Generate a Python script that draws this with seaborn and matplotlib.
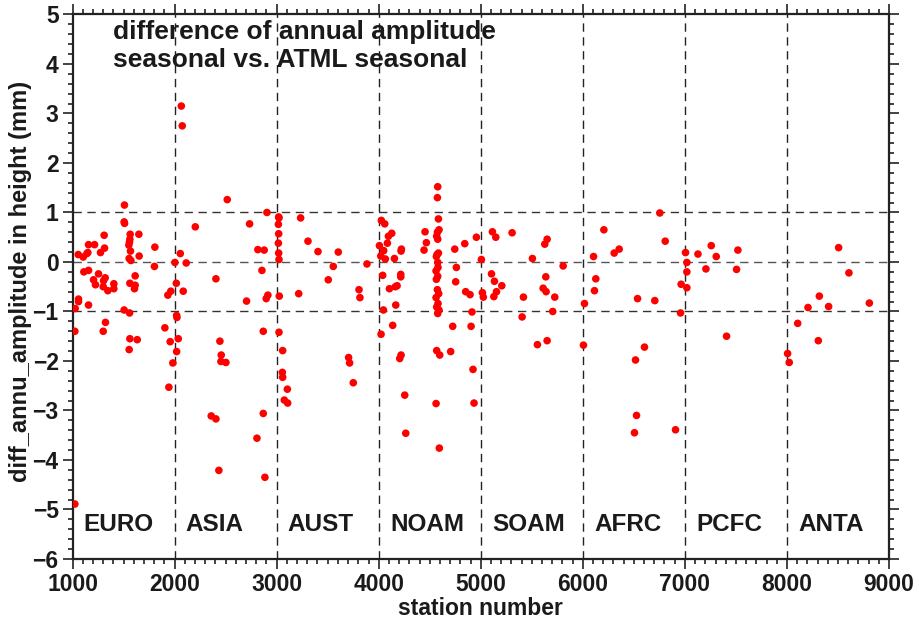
import numpy as np
import pandas as pd
import matplotlib
matplotlib.use("Agg")
import matplotlib.pyplot as plt
import seaborn as sns
from matplotlib.ticker import MultipleLocator

# ---------------- data ----------------
euro_x = [1509, 1506, 1510, 1310, 1650, 1157, 1216, 1565, 1562, 1558, 1552, 1314, 1807, 1568, 1274,
          1141, 1150, 1056, 1105, 1653, 1555, 1572, 1803, 1111, 1157, 1255, 1206, 1320, 1304, 1614,
          1225, 1405, 1301, 1405, 1346, 1562, 1614, 1607, 1059, 1059, 1157, 1026, 1506, 1559, 1323,
          1301, 1023, 1562, 1634, 1555, 1905, 1957, 1934, 1963, 1983, 1944, 1023]
euro_y = [1.15, 0.81, 0.78, 0.54, 0.56, 0.35, 0.35, 0.56, 0.46, 0.40, 0.34, 0.28, 0.30, 0.22, 0.19,
          0.17, 0.19, 0.15, 0.10, 0.12, 0.07, 0.03, -0.09, -0.20, -0.17, -0.24, -0.36, -0.32, -0.38, -0.28,
          -0.46, -0.44, -0.50, -0.54, -0.58, -0.43, -0.47, -0.54, -0.75, -0.80, -0.87, -0.94, -0.97, -1.03, -1.22,
          -1.40, -1.40, -1.55, -1.57, -1.77, -1.33, -1.61, -0.67, -0.59, -2.04, -2.53, -4.89]

asia_x = [2066, 2075, 2516, 2905, 2203, 2735, 2816, 2878, 2056, 2003, 2114, 2856, 2405, 2017, 2085,
          2914, 2898, 2705, 2020, 2023, 2869, 2036, 2444, 2020, 2457, 2454, 2503, 2869, 2359, 2405,
          2807, 2434, 2885]
asia_y = [3.15, 2.75, 1.26, 1.00, 0.71, 0.77, 0.25, 0.24, 0.17, -0.01, -0.02, -0.17, -0.34, -0.43, -0.59,
          -0.67, -0.74, -0.79, -1.08, -1.12, -1.40, -1.55, -1.60, -1.81, -1.88, -2.01, -2.03, -3.06, -3.11, -3.17,
          -3.56, -4.21, -4.35]

aust_x = [3020, 3023, 3017, 3020, 3017, 3020, 3023, 3235, 3307, 3604, 3405, 3555, 3885, 3506, 3807,
          3816, 3216, 3026, 3023, 3059, 3056, 3059, 3105, 3075, 3108, 3705, 3715, 3751]
aust_y = [0.91, 0.89, 0.76, 0.57, 0.38, 0.18, 0.05, 0.89, 0.42, 0.20, 0.21, -0.09, -0.04, -0.36, -0.56,
          -0.72, -0.64, -0.69, -1.42, -1.79, -2.23, -2.33, -2.57, -2.79, -2.85, -1.93, -2.04, -2.44]

noam_x = [4578, 4575, 4585, 4591, 4575, 4568, 4578, 4026, 4059, 4128, 4095, 4454, 4467, 4444, 4085,
          4007, 4049, 4222, 4219, 4154, 4020, 4065, 4957, 4843, 4745, 5006, 4585, 4572, 4565, 4578,
          4581, 4562, 4578, 4565, 4575, 4588, 4562, 4581, 4568, 4591, 4578, 4761, 4754, 4039, 4216,
          4216, 4180, 4163, 4105, 4852, 4895, 4167, 4046, 4914, 5016, 5025, 4137, 4023, 4725, 4905,
          4219, 4206, 4568, 4598, 4705, 4924, 4255, 4562, 4934, 4265, 4594]
noam_y = [1.52, 1.30, 0.87, 0.65, 0.60, 0.52, 0.46, 0.84, 0.77, 0.58, 0.52, 0.61, 0.39, 0.24, 0.38,
          0.33, 0.23, 0.26, 0.22, 0.07, 0.12, 0.06, 0.50, 0.37, 0.26, 0.05, 0.18, 0.15, 0.11, -0.01,
          -0.11, -0.18, -0.29, -0.35, -0.56, -0.64, -0.72, -0.84, -0.91, -0.97, -1.04, -0.11, -0.40, -0.27, -0.25,
          -0.30, -0.48, -0.50, -0.54, -0.60, -0.66, -0.87, -0.97, -1.01, -0.62, -0.71, -1.28, -1.46, -1.30, -1.30,
          -1.88, -1.95, -1.79, -1.88, -1.81, -2.17, -2.69, -2.86, -2.85, -3.46, -3.76]

soam_x = [5114, 5147, 5307, 5650, 5627, 5506, 5807, 5105, 5134, 5206, 5637, 5154, 5128, 5418, 5611,
          5640, 5725, 5705, 5405, 5555, 5650, 6006, 6016]
soam_y = [0.61, 0.50, 0.59, 0.46, 0.36, 0.07, -0.08, -0.24, -0.39, -0.48, -0.30, -0.60, -0.70, -0.71, -0.53,
          -0.60, -0.71, -1.00, -1.11, -1.67, -1.59, -1.68, -0.84]

afrc_x = [6754, 6206, 6807, 6356, 6307, 6105, 7006, 7019, 7019, 6127, 6114, 6963, 7019, 6536, 6705,
          6957, 6604, 6516, 6526, 6506, 6908]
afrc_y = [0.99, 0.65, 0.42, 0.26, 0.18, 0.11, 0.19, -0.01, -0.20, -0.34, -0.58, -0.45, -0.52, -0.74, -0.78,
          -1.03, -1.72, -1.98, -3.10, -3.45, -3.39]

pcfc_x = [7128, 7258, 7307, 7519, 7206, 7506, 7408, 8006, 8022]
pcfc_y = [0.16, 0.33, 0.11, 0.24, -0.14, -0.15, -1.50, -1.85, -2.03]

anta_x = [8506, 8607, 8317, 8206, 8408, 8807, 8105, 8307]
anta_y = [0.29, -0.22, -0.69, -0.92, -0.90, -0.83, -1.24, -1.59]

regions = ["EURO", "ASIA", "AUST", "NOAM", "SOAM", "AFRC", "PCFC", "ANTA"]
region_start = [1000, 2000, 3000, 4000, 5000, 6000, 7000, 8000]

station = euro_x + asia_x + aust_x + noam_x + soam_x + afrc_x + pcfc_x + anta_x
diff = euro_y + asia_y + aust_y + noam_y + soam_y + afrc_y + pcfc_y + anta_y
df = pd.DataFrame({"station number": station, "diff": diff})

# ---------------- style ----------------
sns.set_style("white")
plt.rcParams['font.family'] = ['Liberation Sans', 'DejaVu Sans']
plt.rcParams['font.weight'] = 'bold'
TXT = '#1a1a1a'

fig = plt.figure(figsize=(9.19, 6.24), dpi=100)
ax = fig.add_axes([0.0789, 0.1042, 0.8885, 0.8726])

# grid lines (dashed)
for xv in region_start[1:]:
    ax.axvline(xv, color='#222222', lw=1.0, ls=(0, (6, 4)), zorder=1)
for yv in [-1, 0, 1]:
    ax.axhline(yv, color='#333333' if yv else '#555555', lw=1.0, ls=(0, (6, 4)), zorder=1)

sns.scatterplot(data=df, x="station number", y="diff", ax=ax, color='#ff0000',
                s=30, edgecolor='none', linewidth=0, zorder=3, legend=False)

ax.set_xlim(1000, 9000)
ax.set_ylim(-6, 5)
ax.xaxis.set_major_locator(MultipleLocator(1000))
ax.xaxis.set_minor_locator(MultipleLocator(100))
ax.yaxis.set_major_locator(MultipleLocator(1))
ax.yaxis.set_minor_locator(MultipleLocator(0.2))
ax.tick_params(which='both', direction='out', top=True, right=True, bottom=True, left=True,
               color='#222222', width=1.2)
ax.tick_params(which='major', length=7, labelsize=16.5, labelcolor=TXT, pad=3)
ax.tick_params(which='minor', length=3.5)
ax.tick_params(axis='both', labeltop=False, labelright=False)
for lab in ax.get_xticklabels() + ax.get_yticklabels():
    lab.set_fontweight('bold')
for sp in ax.spines.values():
    sp.set_color('#222222')
    sp.set_linewidth(1.6)

ax.set_xlabel("station number", fontsize=16.5, fontweight='bold', color=TXT, labelpad=1)
ax.set_ylabel("diff_annu_amplitude in height (mm)", fontsize=17, fontweight='bold', color=TXT, labelpad=1)
ax.yaxis.set_label_coords(-0.05, 0.51)

for name, xs in zip(regions, region_start):
    ax.text(xs + 110, -5.3, name, fontsize=17.5, fontweight='bold', color=TXT,
            ha='left', va='center', zorder=4)

ax.text(0.0496, 0.968, "difference of annual amplitude", transform=ax.transAxes,
        fontsize=19, fontweight='bold', color=TXT, ha='left', va='center', zorder=4)
ax.text(0.0496, 0.916, "seasonal vs. ATML seasonal", transform=ax.transAxes,
        fontsize=19, fontweight='bold', color=TXT, ha='left', va='center', zorder=4)

fig.savefig("out.png", dpi=100)
